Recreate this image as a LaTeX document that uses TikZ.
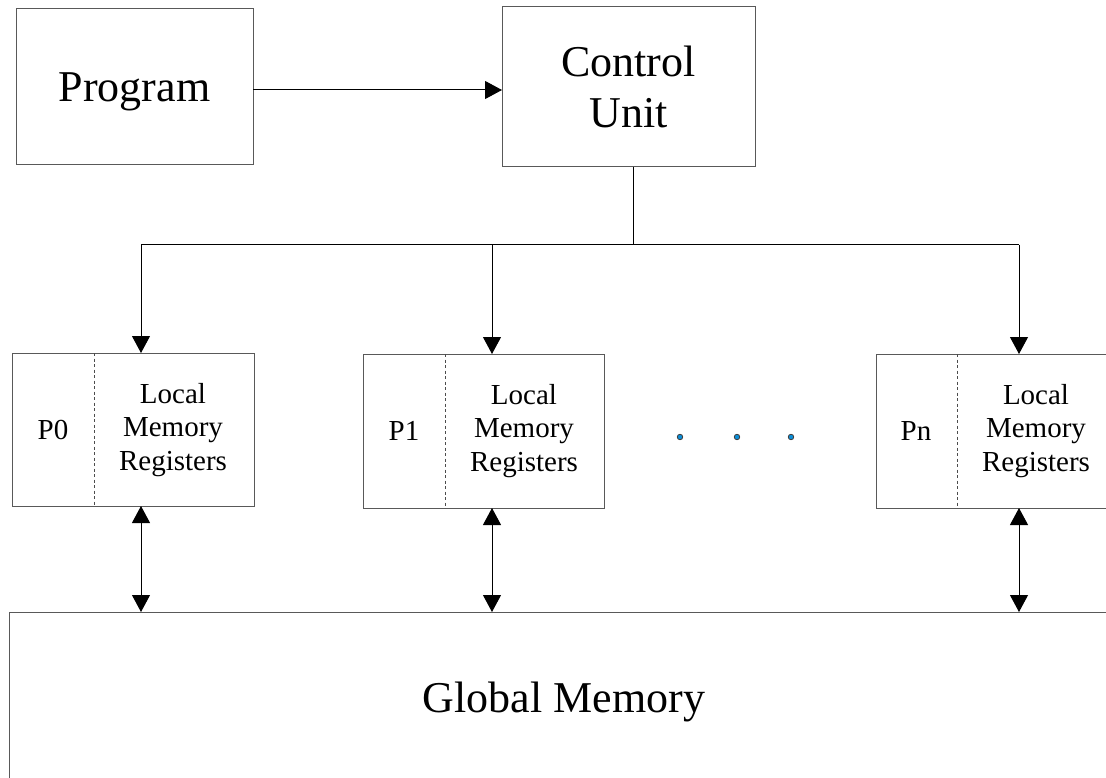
\documentclass[tikz,border=0pt]{standalone}
\usepackage{fontspec}
\setmainfont{Liberation Serif}
\usetikzlibrary{arrows.meta}
\begin{document}
\begin{tikzpicture}[x=1pt,y=-1pt,
  box/.style={draw=black!65, line width=1pt, inner sep=0pt, outer sep=0pt, anchor=north west},
  big/.style={font=\fontsize{44}{50.6}\selectfont, align=center},
  small/.style={font=\fontsize{29}{33.5}\selectfont, align=center},
  capmid/.style={text height=29pt, text depth=0pt},
  wire/.style={line width=1pt},
  link/.style={line width=1pt, -{Triangle[width=18pt,length=17pt]}},
  duplex/.style={line width=1pt, {Triangle[width=18pt,length=17pt]}-{Triangle[width=18pt,length=17pt]}},
  divider/.style={draw=black!70, line width=0.9pt, dash pattern=on 3pt off 2.5pt},
  dot/.style={circle, inner sep=0pt, minimum size=5.5pt, fill=cyan!75!blue, draw=black!75, line width=0.8pt}
]
\clip (0,0) rectangle (1106,778);

% program and control unit
\node[box, big, capmid, minimum width=237, minimum height=156] (prog) at (16,9) {Program};
\node[box, big, minimum width=253, minimum height=160] (cu) at (502,7) {Control\\Unit};
\coordinate (feed) at (0,90);
\draw[link] (prog.east |- feed) -- (cu.west |- feed);

% processing elements
\node[box, minimum width=242, minimum height=153] (p0) at (12,353) {};
\node[box, minimum width=241, minimum height=154] (p1) at (363,354) {};
\node[box, minimum width=260, minimum height=154] (pn) at (876,354) {};

\coordinate (s0) at (94,0);
\coordinate (s1) at (445,0);
\coordinate (sn) at (957,0);
\draw[divider] (p0.north -| s0) -- (p0.south -| s0);
\draw[divider] (p1.north -| s1) -- (p1.south -| s1);
\draw[divider] (pn.north -| sn) -- (pn.south -| sn);

\node[small] (p0id) at (53,430) {P0};
\node[small] (p0mem) at (173,430) {Local\\Memory\\Registers};
\node[small] (p1id) at (404,431) {P1};
\node[small] (p1mem) at (524,431) {Local\\Memory\\Registers};
\node[small] (pnid) at (916,431) {Pn};
\node[small] (pnmem) at (1036,431) {Local\\Memory\\Registers};

\node[dot] (d1) at (680,437) {};
\node[dot] (d2) at (737,437) {};
\node[dot] (d3) at (791,437) {};

% global memory
\node[box, big, capmid, minimum width=1110, minimum height=172] (gm) at (9,612) {Global Memory};

% broadcast bus
\coordinate (b0) at (141,245);
\coordinate (b1) at (492,245);
\coordinate (bn) at (1019,245);
\coordinate (tap) at (633,245);
\draw[wire] (cu.south -| tap) -- (tap);
\draw[wire] (b0) -- (bn);
\draw[link] (b0) -- (b0 |- p0.north);
\draw[link] (b1) -- (b1 |- p1.north);
\draw[link] (bn) -- (bn |- pn.north);

% memory access
\draw[duplex] (b0 |- p0.south) -- (b0 |- gm.north);
\draw[duplex] (b1 |- p1.south) -- (b1 |- gm.north);
\draw[duplex] (bn |- pn.south) -- (bn |- gm.north);
\end{tikzpicture}
\end{document}
